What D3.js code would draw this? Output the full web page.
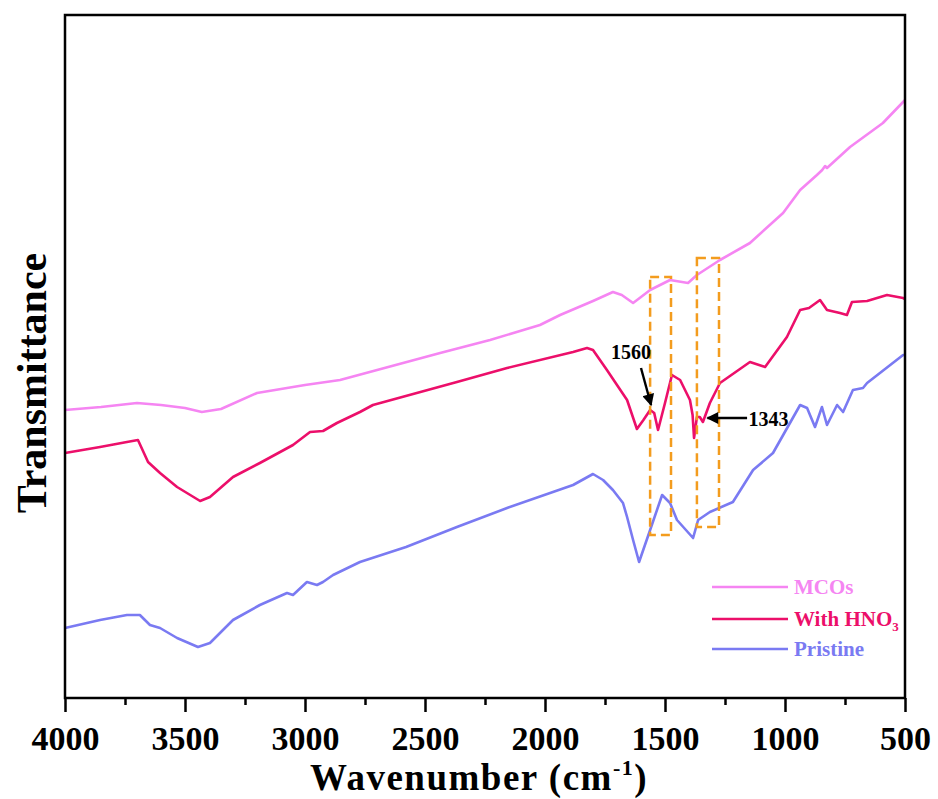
<!DOCTYPE html>
<html><head><meta charset="utf-8">
<script src="https://cdn.jsdelivr.net/npm/d3@7"></script>
<style>body{margin:0;background:#fff}svg{display:block}</style>
</head><body>
<svg id="c" width="938" height="799"></svg>
<script>
const xTicks = [4000,3500,3000,2500,2000,1500,1000,500];
const seriesNames = ["MCOs","With HNO3","Pristine"];
const seriesColors = ["#F585F2","#EC0F6A","#7A7AF2"];

const mcoW = [4000,3850,3700,3600,3500,3430,3350,3200,3000,2854,2437,2229,2021,1937,1800,1717,1680,1633,1600,1562,1479,1404,1367,1271,1146,1008,937,867,845,833,825,729,592,508,500];
const mcoV = [28.8,29.1,29.5,29.3,29.0,28.6,28.9,30.5,31.3,31.8,34.5,35.8,37.3,38.3,39.7,40.6,40.3,39.5,40.1,40.8,41.8,41.5,42.3,43.8,45.5,48.5,50.8,52.3,52.8,53.2,53.0,55.1,57.5,59.6,59.8];

const hnoW = [4000,3854,3742,3696,3654,3604,3533,3437,3396,3300,3188,3050,2979,2925,2867,2771,2717,2367,2158,1883,1825,1800,1742,1700,1658,1617,1590,1562,1545,1529,1500,1471,1437,1396,1385,1379,1367,1355,1342,1313,1271,1146,1083,992,937,900,854,825,771,742,721,658,575,508,500];
const hnoV = [24.5,25.1,25.6,25.8,23.6,22.5,21.1,19.7,20.1,22.1,23.5,25.3,26.6,26.7,27.5,28.6,29.3,31.6,33.0,34.6,35.0,34.8,32.8,31.3,29.8,26.9,27.8,28.8,28.5,26.8,29.5,32.3,31.8,29.8,28.3,26.0,28.1,28.1,27.6,29.5,31.5,33.6,33.1,36.1,38.8,39.0,39.8,38.8,38.5,38.3,39.6,39.7,40.3,40.0,39.9];

const priW = [4000,3854,3742,3688,3646,3604,3533,3446,3396,3300,3188,3075,3050,2992,2950,2925,2883,2771,2579,2367,2158,1883,1800,1758,1717,1675,1658,1633,1608,1562,1512,1479,1450,1383,1362,1313,1217,1133,1050,937,908,875,846,825,783,758,717,675,658,508,500];
const priV = [7.0,7.8,8.3,8.3,7.3,7.0,6.0,5.1,5.5,7.8,9.3,10.5,10.3,11.6,11.3,11.6,12.3,13.6,15.1,17.1,19.0,21.3,22.4,21.8,20.8,19.5,18.1,15.8,13.6,16.8,20.3,19.5,17.8,16.0,17.8,18.6,19.6,22.8,24.5,29.3,29.0,27.1,29.1,27.3,29.3,28.6,30.8,31.0,31.5,34.3,34.3];

// dashed highlight boxes [wHigh, wLow, vTop, vBottom]
const boxes = [[1562,1475,42.1,16.3],[1367,1275,44.0,17.1]];
// annotations
const notes = [
  {label:"1560", tx:1642, ty:33.9, anchor:"middle", from:[1600,33.0], to:[1558,29.3]},
  {label:"1343", tx:1152, ty:27.2, anchor:"start", from:[1158,28.0], to:[1323,28.0]}
];

const svg = d3.select("#c");
const L=65,R=905,T=15,B=698;
const x = d3.scaleLinear().domain([4000,500]).range([L,R]);
const y = d3.scaleLinear().domain([0,68.3]).range([B,T]);
const serif = "'Liberation Serif','Times New Roman',serif";

svg.append("defs").append("marker").attr("id","ah").attr("viewBox","0 0 10 10")
  .attr("refX",9).attr("refY",5).attr("markerWidth",6).attr("markerHeight",5)
  .attr("markerUnits","strokeWidth").attr("orient","auto")
  .append("path").attr("d","M0,0 L10,5 L0,10 Z").attr("fill","#000");

const line = d3.line().x(d=>x(d[0])).y(d=>y(d[1]));
const data = [d3.zip(mcoW,mcoV), d3.zip(hnoW,hnoV), d3.zip(priW,priV)];
data.forEach((d,i)=>{
  svg.append("path").datum(d).attr("d",line).attr("fill","none")
    .attr("stroke",seriesColors[i]).attr("stroke-width",2.6).attr("stroke-linejoin","round");
});

boxes.forEach(b=>{
  svg.append("rect").attr("x",x(b[0])).attr("y",y(b[2]))
    .attr("width",x(b[1])-x(b[0])).attr("height",y(b[3])-y(b[2]))
    .attr("fill","none").attr("stroke","#F39C1E").attr("stroke-width",2.5)
    .attr("stroke-dasharray","9,5");
});

notes.forEach(n=>{
  svg.append("line").attr("x1",x(n.from[0])).attr("y1",y(n.from[1]))
    .attr("x2",x(n.to[0])).attr("y2",y(n.to[1]))
    .attr("stroke","#000").attr("stroke-width",2.4).attr("marker-end","url(#ah)");
  svg.append("text").attr("x",x(n.tx)).attr("y",y(n.ty)).attr("text-anchor",n.anchor)
    .attr("font-family",serif).attr("font-weight","bold").attr("font-size",20).text(n.label);
});

// frame
svg.append("rect").attr("x",L).attr("y",T).attr("width",R-L).attr("height",B-T)
  .attr("fill","none").attr("stroke","#000").attr("stroke-width",2.5);

// bottom axis
const minor = d3.range(4000,499,-250).filter(v=>v%500!==0);
const ax = svg.append("g").attr("transform",`translate(0,${B})`);
ax.call(d3.axisBottom(x).tickValues(xTicks).tickSize(14).tickSizeOuter(0).tickPadding(14).tickFormat(d3.format("d")));
ax.select(".domain").remove();
ax.selectAll(".tick line").attr("stroke-width",2.5);
ax.selectAll(".tick text").attr("font-family",serif).attr("font-weight","bold").attr("font-size",34).attr("fill","#000");
const ax2 = svg.append("g").attr("transform",`translate(0,${B})`);
ax2.call(d3.axisBottom(x).tickValues(minor).tickSize(7).tickFormat(""));
ax2.select(".domain").remove();
ax2.selectAll(".tick line").attr("stroke-width",2.5);

// axis titles
const xt = svg.append("text").attr("x",479).attr("y",790).attr("text-anchor","middle")
  .attr("font-family",serif).attr("font-weight","bold").attr("font-size",37).attr("letter-spacing",1.5);
xt.append("tspan").text("Wavenumber (cm");
xt.append("tspan").attr("font-size",22).attr("dy",-15).text("-1");
xt.append("tspan").attr("dy",15).text(")");

svg.append("text").attr("transform","translate(46,383) rotate(-90)").attr("text-anchor","middle")
  .attr("font-family",serif).attr("font-weight","bold").attr("font-size",42).text("Transmittance");

// legend
const leg = svg.append("g");
const legY = [587,619,649];
seriesNames.forEach((nm,i)=>{
  leg.append("line").attr("x1",712).attr("x2",788).attr("y1",legY[i]).attr("y2",legY[i])
    .attr("stroke",seriesColors[i]).attr("stroke-width",2.6);
  const t = leg.append("text").attr("x",794).attr("y",legY[i]+7).attr("fill",seriesColors[i])
    .attr("font-family",serif).attr("font-weight","bold").attr("font-size",21);
  if(nm==="With HNO3"){
    t.append("tspan").text("With HNO");
    t.append("tspan").attr("font-size",13).attr("dy",5).text("3");
  } else t.text(nm);
});
</script>
</body></html>
